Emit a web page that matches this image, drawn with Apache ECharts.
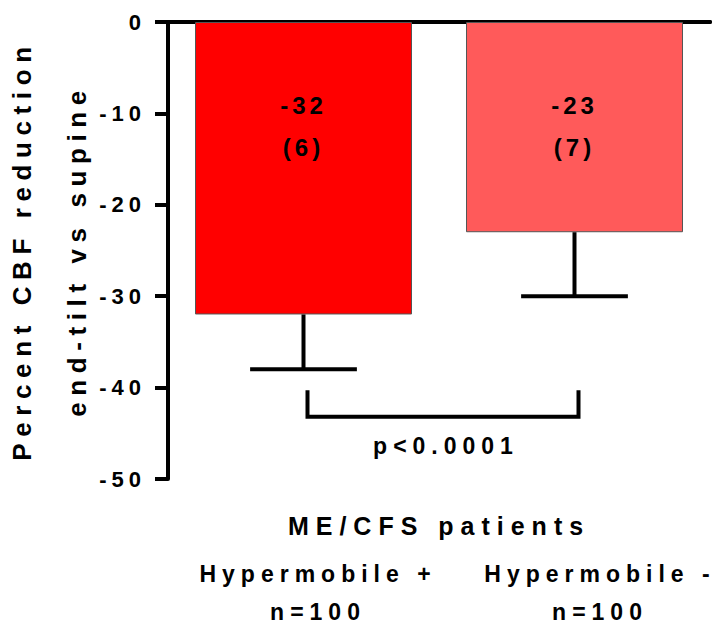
<!DOCTYPE html>
<html>
<head>
<meta charset="utf-8">
<script src="https://cdn.jsdelivr.net/npm/echarts@6/dist/echarts.min.js"></script>
<style>
  html, body { margin: 0; padding: 0; background: #fff; }
  #chart { width: 717px; height: 626px; }
  /* GraphPad-style wide lettering, tuned per text size */
  #chart text { letter-spacing: 6px; }
  #chart text[style*="22px"] { letter-spacing: 5px; }
  #chart text[style*="24px"] { letter-spacing: 4px; }
  #chart text[style*="25px"] { letter-spacing: 7px; }
  #chart text[style*="26px"] { letter-spacing: 6.6px; }
</style>
</head>
<body>
<div id="chart"></div>
<script>
const groups = ['Hypermobile +', 'Hypermobile -'];
const nValues = [100, 100];
const means = [-32, -23];
const sds = [6, 7];
const bracketTop = -40.3;
const bracketBottom = -43.2;
const pText = 'p<0.0001';

const font = 'Liberation Sans';
const barColors = ['#FF0000', '#FF5A5A'];

var chart = echarts.init(document.getElementById('chart'), null, { renderer: 'svg' });

function renderErrorBar(params, api) {
  const x = api.value(0);
  const m = api.value(1);
  const sd = api.value(2);
  const p0 = api.coord([x, m]);
  const p1 = api.coord([x, m - sd]);
  const half = api.size([1, 0])[0] * 0.197;
  const st = { stroke: '#000', lineWidth: 4 };
  return {
    type: 'group',
    children: [
      { type: 'line', shape: { x1: p0[0], y1: p0[1], x2: p1[0], y2: p1[1] }, style: st },
      { type: 'line', shape: { x1: p1[0] - half, y1: p1[1], x2: p1[0] + half, y2: p1[1] }, style: st }
    ]
  };
}

function renderBracket(params, api) {
  const a = api.coord([api.value(0), api.value(1)]);
  const b = api.coord([api.value(0), api.value(3)]);
  const c = api.coord([api.value(2), api.value(3)]);
  const d = api.coord([api.value(2), api.value(1)]);
  // bracket sits a little right of the bar centres
  [a, b, c, d].forEach(p => { p[0] += 4; });
  return {
    type: 'group',
    children: [
      {
        type: 'polyline',
        shape: { points: [a, b, c, d] },
        style: { stroke: '#000', lineWidth: 4, fill: null }
      },
      {
        type: 'text',
        style: {
          text: pText,
          x: (b[0] + c[0]) / 2 + 3,
          y: b[1] + 29,
          align: 'center',
          verticalAlign: 'middle',
          fontFamily: font,
          fontWeight: 'bold',
          fontSize: 23,
          fill: '#000'
        }
      }
    ]
  };
}

const catText = { fontFamily: font, fontWeight: 'bold', fontSize: 23, lineHeight: 38, color: '#000' };

const option = {
  animation: false,
  grid: {
    left: 168,
    right: 7,
    top: 22,
    bottom: 147,
    outerBoundsMode: 'none'
  },
  xAxis: [
    {
      type: 'category',
      data: groups,
      position: 'bottom',
      name: 'ME/CFS patients',
      nameLocation: 'middle',
      nameGap: 34,
      nameMoveOverlap: false,
      nameTextStyle: { fontFamily: font, fontWeight: 'bold', fontSize: 25, color: '#000' },
      axisLine: { lineStyle: { color: '#000', width: 4 } },
      axisTick: { alignWithLabel: true, length: 12, lineStyle: { color: '#000', width: 4 } },
      axisLabel: {
        margin: 76,
        interval: 0,
        fontFamily: font,
        fontWeight: 'bold',
        fontSize: 23,
        lineHeight: 38,
        color: '#000',
        formatter: (v, i) => '{g' + i + '|' + v + '}\n{g' + i + '|n=' + nValues[i] + '}',
        rich: {
          g0: Object.assign({ padding: [0, 0, 0, 29] }, catText),
          g1: Object.assign({ padding: [0, 0, 0, 51] }, catText)
        }
      }
    },
    {
      type: 'category',
      data: groups,
      position: 'top',
      axisLine: { lineStyle: { color: '#000', width: 4 } },
      axisTick: { show: false },
      axisLabel: { show: false }
    }
  ],
  yAxis: {
    type: 'value',
    min: -50,
    max: 0,
    interval: 10,
    name: 'Percent CBF reduction\nend-tilt vs supine',
    nameLocation: 'middle',
    nameGap: 64,
    nameMoveOverlap: false,
    nameTextStyle: { fontFamily: font, fontWeight: 'bold', fontSize: 26, lineHeight: 55, color: '#000' },
    axisLine: { show: true, lineStyle: { color: '#000', width: 4 } },
    axisTick: { show: true, length: 13, lineStyle: { color: '#000', width: 4 } },
    splitLine: { show: false },
    axisLabel: {
      margin: 22,
      fontFamily: font,
      fontWeight: 'bold',
      fontSize: 22,
      color: '#000'
    }
  },
  series: [
    {
      type: 'bar',
      data: means.map((v, i) => ({ value: v, itemStyle: { color: barColors[i] } })),
      barWidth: 217,
      itemStyle: { borderColor: '#555', borderWidth: 1 },
      label: {
        show: true,
        position: 'insideTop',
        distance: 62,
        fontFamily: font,
        fontWeight: 'bold',
        fontSize: 24,
        lineHeight: 42,
        color: '#000',
        formatter: p => p.value + '\n(' + sds[p.dataIndex] + ')'
      }
    },
    {
      type: 'custom',
      renderItem: renderErrorBar,
      data: means.map((m, i) => [i, m, sds[i]]),
      z: 3
    },
    {
      type: 'custom',
      renderItem: renderBracket,
      encode: { x: [0, 2], y: [1, 3] },
      data: [[0, bracketTop, 1, bracketBottom]],
      z: 3
    }
  ]
};

chart.setOption(option);
</script>
</body>
</html>
